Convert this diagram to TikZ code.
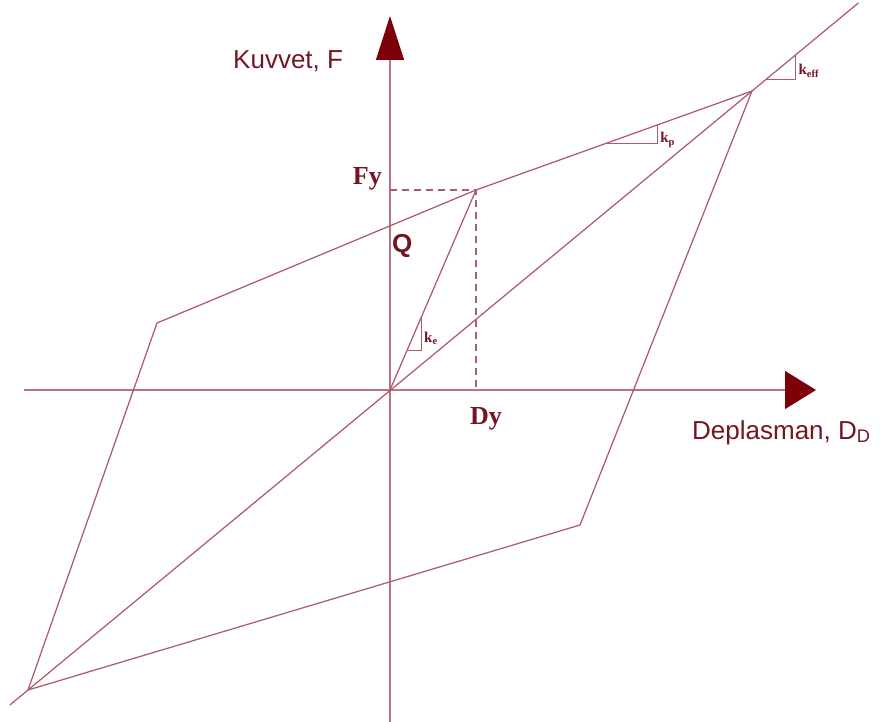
\documentclass[tikz,border=0pt]{standalone}
\usepackage{fontspec}
\setmainfont{Liberation Serif}
\setsansfont{Liberation Sans}
\usetikzlibrary{arrows.meta,calc}
\definecolor{linecol}{RGB}{172,92,108}
\definecolor{tipcol}{RGB}{125,0,8}
\definecolor{txtcol}{RGB}{118,20,36}
\begin{document}
\begin{tikzpicture}[x=1pt, y=-1pt,
		curve/.style={draw=linecol, line width=1.25pt},
		axisline/.style={draw=linecol!85, line width=1.2pt},
		guide/.style={draw=linecol, line width=1.1pt, dash pattern=on 7pt off 5pt},
		slope/.style={draw=linecol, line width=0.9pt},
		axislabel/.style={font=\sffamily\fontsize{26}{26}\selectfont, text=txtcol, inner sep=0pt},
		pointlabel/.style={font=\bfseries\fontsize{26}{26}\selectfont, text=txtcol, inner sep=0pt},
		klabel/.style={font=\bfseries\fontsize{15}{15}\selectfont, text=txtcol, inner sep=0pt}]
			\useasboundingbox (0,0) rectangle (880,722);
			% Diem chinh
			\coordinate (O) at (390,390);
			\coordinate (Y) at (476,190);
			\coordinate (M) at (752,91);
			\coordinate (LC) at (157,323);
			\coordinate (BL) at (28,690);
			\coordinate (RC) at (580,525);
			\coordinate (E1) at ($(BL)!-0.025!(M)$);
			\coordinate (E2) at ($(BL)!1.147!(M)$);
			
			% Eksenler
			\coordinate (xL) at (24,390);
			\coordinate (xR) at (816,390);
			\coordinate (yB) at (390,722);
			\coordinate (yT) at (390,16);
			\draw[axisline, -{Triangle[length=31pt, width=38pt, color=tipcol]}] (xL) -- (xR);
			\draw[axisline, -{Triangle[length=44pt, width=28pt, color=tipcol]}] (yB) -- (yT);
			
			% Histerezis cevrimi
			\draw[curve] (M) -- (Y) -- (LC) -- (BL) -- (RC) -- cycle;
			\draw[curve] (O) -- (Y);
			\draw[curve] (E1) -- (E2);
			\draw[guide] (O |- Y) -- (Y) -- (Y |- O);
			
			% Egim ucgenleri
			\coordinate (ke1) at ($(O)!0.2!(Y)$);
			\coordinate (ke2) at ($(O)!0.36!(Y)$);
			\coordinate (kp1) at ($(Y)!0.467!(M)$);
			\coordinate (kp2) at ($(Y)!0.656!(M)$);
			\coordinate (keff1) at ($(BL)!1.02!(M)$);
			\coordinate (keff2) at ($(BL)!1.06!(M)$);
			\draw[slope] (ke1) -| (ke2);
			\draw[slope] (kp1) -| (kp2);
			\draw[slope] (keff1) -| (keff2);
			
			% Yazilar
			\node[axislabel, anchor=base west] (kuvvet) at (233,69) {Kuvvet, F};
			\node[axislabel, anchor=base west] (deplasman) at (692,439) {Deplasman, D\textsubscript{D}};
			\node[pointlabel, anchor=base east] (fy) at (382,185) {Fy};
			\node[pointlabel, anchor=base west] (dy) at (470,424) {Dy};
			\node[pointlabel, font=\sffamily\bfseries\fontsize{26}{26}\selectfont, anchor=base west] (q) at (392,252) {Q};
			\node[klabel, anchor=base west] (ke) at ([xshift=3pt]ke2 |- 0,342) {k\textsubscript{e}};
			\node[klabel, anchor=base west] (kp) at ([xshift=3pt]kp2 |- 0,143) {k\textsubscript{p}};
			\node[klabel, anchor=base west] (keff) at ([xshift=3pt]keff2 |- 0,75) {k\textsubscript{eff}};
		\end{tikzpicture}
\end{document}
